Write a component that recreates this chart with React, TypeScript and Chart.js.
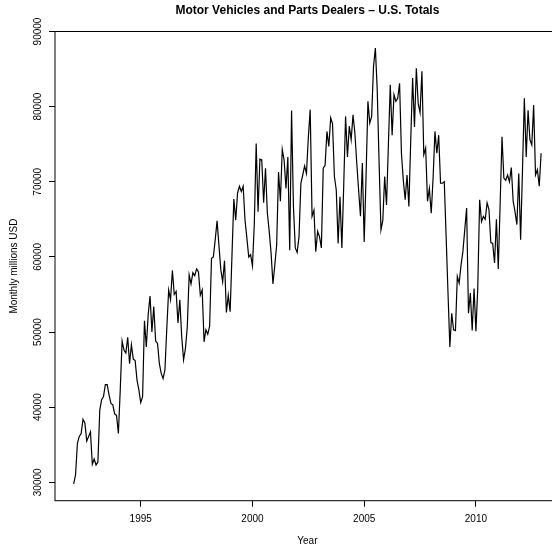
import React, { useEffect, useRef } from 'react';
import { Chart, registerables } from 'chart.js';

Chart.register(...registerables);

// Monthly series, January 1992 .. December 2012 (millions of USD)
const startYear = 1992;
const sales = [
  // 1992
  29800, 31000, 35200, 36100, 36500, 38400, 37900, 35500, 36100, 36700, 32400, 33100,
  // 1993
  32300, 32700, 39600, 41000, 41400, 43000, 43000, 41600, 40500, 40300, 39100, 38900,
  // 1994
  36500, 42300, 48800, 47600, 47200, 49300, 45800, 48300, 46400, 46200, 43600, 42300,
  // 1995
  40600, 41400, 51500, 48000, 52300, 54800, 50000, 53400, 48800, 48500, 45800, 44500,
  // 1996
  43800, 45000, 50500, 55600, 54300, 58200, 55000, 55400, 51200, 54300, 49400, 46300,
  // 1997
  47800, 50700, 57600, 56400, 57900, 57500, 58400, 58000, 54900, 55600, 48700, 50300,
  // 1998
  49700, 50800, 59800, 60000, 62300, 64800, 61500, 58300, 56700, 59500, 52600, 54900,
  // 1999
  52700, 60200, 67700, 64900, 68500, 69400, 68700, 69400, 64900, 62500, 60000, 60300,
  // 2000
  58800, 64500, 75100, 66000, 73000, 72900, 67200, 71800, 65800, 63400, 60500, 56400,
  // 2001
  58900, 61600, 71300, 67400, 74300, 72900, 69100, 73300, 60900, 79500, 66700, 61200,
  // 2002
  60600, 62700, 69800, 70900, 72100, 71100, 75900, 79600, 65400, 66200, 60700, 63400,
  // 2003
  62700, 61200, 71800, 72200, 76700, 74700, 78500, 77700, 70700, 68900, 61800, 68000,
  // 2004
  61200, 69400, 78700, 73300, 77400, 75600, 78900, 76500, 72500, 68900, 65400, 72500,
  // 2005
  62000, 70700, 80700, 77800, 78700, 85300, 87800, 82200, 72500, 63600, 64900, 70700,
  // 2006
  66900, 75000, 82900, 76200, 81600, 80700, 81100, 83100, 73800, 70200, 67600, 70900,
  // 2007
  66700, 75600, 83800, 77300, 85100, 80400, 79200, 84700, 73600, 74500, 67400, 69100,
  // 2008
  65800, 70500, 76700, 73800, 76200, 69800, 69800, 70000, 62700, 55200, 48000, 52500,
  // 2009
  50300, 50200, 57400, 56500, 58900, 60700, 63600, 66500, 52500, 55200, 50200, 55800,
  // 2010
  50100, 56000, 67600, 64700, 65400, 65000, 67200, 66300, 61900, 61800, 59200, 65000,
  // 2011
  58400, 67000, 76000, 70500, 70200, 70900, 70000, 71900, 67400, 66000, 64300, 71100,
  // 2012
  62300, 71500, 81100, 73300, 79500, 75600, 74900, 80200, 70900, 71600, 69400, 73800,
];

const xTickValues = [1995, 2000, 2005, 2010];
const yTickValues = [30000, 40000, 50000, 60000, 70000, 80000, 90000];
const yMin = 27550;
const yMax = 90000;

const titleText = 'Motor Vehicles and Parts Dealers \u2013 U.S. Totals';
const xTitleText = 'Year';
const yTitleText = 'Monthly millions USD';

const FONT = '"Liberation Sans", Arial, Helvetica, sans-serif';
const CW = 570;
const CH = 550;

export default function App() {
  const ref = useRef<HTMLCanvasElement | null>(null);

  useEffect(() => {
    if (!ref.current) return;
    const points = sales.map((v, i) => ({ x: startYear + i / 12, y: v }));
    const span = (sales.length - 1) / 12;
    const xMin = startYear - 0.04 * span;
    const xMax = startYear + span + 0.04 * span;

    const boxPlugin = {
      id: 'rbox',
      afterDraw(chart: any) {
        const { ctx, chartArea: a } = chart;
        ctx.save();
        ctx.strokeStyle = '#000';
        ctx.lineWidth = 1;
        ctx.strokeRect(a.left, a.top, a.right - a.left, a.bottom - a.top);
        ctx.font = 'bold 12px ' + FONT;
        ctx.fillStyle = '#000';
        ctx.textAlign = 'center';
        ctx.textBaseline = 'middle';
        ctx.fillText(titleText, (a.left + a.right) / 2, 11);
        ctx.restore();
      },
    };

    const chart = new Chart(ref.current, {
      type: 'line',
      data: {
        datasets: [
          {
            data: points,
            borderColor: '#000',
            borderWidth: 1.2,
            pointRadius: 0,
            tension: 0,
            fill: false,
          },
        ],
      },
      options: {
        responsive: false,
        animation: false,
        devicePixelRatio: 1,
        layout: { padding: { top: 31.5, right: CW - 559.8, left: 0, bottom: 0 } },
        plugins: { legend: { display: false }, tooltip: { enabled: false }, title: { display: false } },
        scales: {
          x: {
            type: 'linear',
            min: xMin,
            max: xMax,
            afterBuildTicks: (s: any) => {
              s.ticks = xTickValues.map((v) => ({ value: v }));
            },
            afterFit: (s: any) => {
              s.height = CH - 500.7;
            },
            grid: { drawOnChartArea: false, drawTicks: true, tickLength: 6, tickColor: '#000', color: '#000' },
            border: { display: false },
            ticks: {
              autoSkip: false,
              minRotation: 0,
              maxRotation: 0,
              padding: 7,
              color: '#000',
              font: { family: FONT, size: 10 },
              callback: (v: any) => String(v),
            },
            title: {
              display: true,
              text: xTitleText,
              color: '#000',
              font: { family: FONT, size: 10 },
              padding: { top: 0, bottom: 3 },
            },
          },
          y: {
            type: 'linear',
            min: yMin,
            max: yMax,
            afterBuildTicks: (s: any) => {
              s.ticks = yTickValues.map((v) => ({ value: v }));
            },
            afterFit: (s: any) => {
              s.width = 55;
            },
            grid: { drawOnChartArea: false, drawTicks: true, tickLength: 6, tickColor: '#000', color: '#000' },
            border: { display: false },
            ticks: {
              autoSkip: false,
              minRotation: 90,
              maxRotation: 90,
              crossAlign: 'center',
              padding: -3.4,
              color: '#000',
              font: { family: FONT, size: 10 },
              callback: (v: any) => String(v),
            },
            title: {
              display: true,
              text: yTitleText,
              color: '#000',
              font: { family: FONT, size: 10 },
              padding: { top: 8, bottom: 0 },
            },
          },
        },
      },
      plugins: [boxPlugin],
    } as any);

    return () => chart.destroy();
  }, []);

  return (
    <div style={{ position: 'absolute', left: 0, top: 0, width: 552, height: 550, overflow: 'hidden', background: '#fff' }}>
      <canvas ref={ref} width={CW} height={CH} style={{ display: 'block', width: CW, height: CH }} />
    </div>
  );
}
